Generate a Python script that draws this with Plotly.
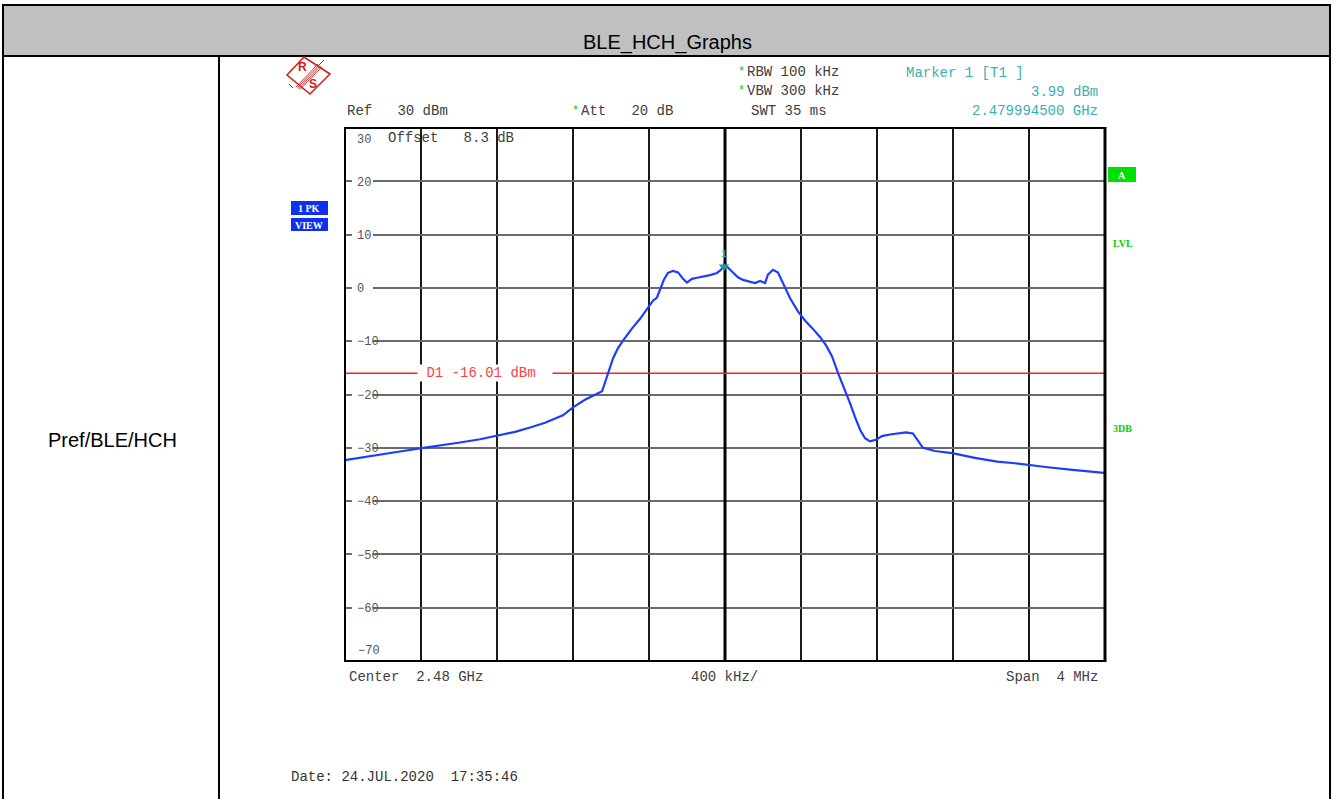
import plotly.graph_objects as go

W, H = 1335, 799

# ---------------- data ----------------
center_ghz = 2.48
span_mhz = 4.0
# frequency offsets from start (2.478 GHz), MHz
freq_offset_mhz = [0.000, 0.079, 0.184, 0.289, 0.395, 0.500, 0.605, 0.711, 0.800, 0.895,
                   0.974, 1.053, 1.147, 1.200, 1.263, 1.326, 1.353, 1.368, 1.384, 1.411,
                   1.437, 1.463, 1.511, 1.553, 1.595, 1.621, 1.642, 1.658, 1.679, 1.700,
                   1.726, 1.753, 1.779, 1.800, 1.826, 1.853, 1.884, 1.921, 1.958, 1.979,
                   1.995, 2.016, 2.042, 2.068, 2.095, 2.132, 2.158, 2.184, 2.211, 2.226,
                   2.253, 2.279, 2.300, 2.316, 2.342, 2.384, 2.421, 2.458, 2.500, 2.532,
                   2.563, 2.595, 2.621, 2.658, 2.684, 2.711, 2.737, 2.763, 2.795, 2.826,
                   2.868, 2.911, 2.953, 2.989, 3.016, 3.042, 3.105, 3.195, 3.316, 3.432,
                   3.526, 3.605, 3.711, 3.816, 3.921, 3.995]
level_dbm = [-32.3, -31.9, -31.3, -30.7, -30.1, -29.6, -29.0, -28.4, -27.7, -27.0,
             -26.2, -25.3, -23.9, -22.4, -21.0, -19.8, -19.4, -17.8, -16.0, -13.2,
             -11.3, -9.9, -7.6, -5.8, -3.7, -2.4, -1.8, -0.3, 1.6, 2.8,
             3.2, 2.9, 1.7, 1.0, 1.7, 1.9, 2.1, 2.4, 2.8, 3.4,
             4.3, 3.8, 2.9, 2.0, 1.5, 1.1, 0.9, 1.3, 0.9, 2.5,
             3.4, 2.9, 1.3, 0.0, -1.9, -4.4, -6.1, -7.5, -9.2, -10.8,
             -12.8, -16.0, -18.2, -21.6, -24.2, -26.6, -28.2, -28.8, -28.5, -27.8,
             -27.5, -27.3, -27.1, -27.3, -28.6, -30.0, -30.6, -31.0, -31.9, -32.6,
             -32.9, -33.3, -33.7, -34.1, -34.5, -34.7]
marker_freq_ghz = 2.4799945
marker_level_dbm = 3.99
d1_level_dbm = -16.01
ref_level = 30
bottom_level = -70
y_tick_vals = [20, 10, 0, -10, -20, -30, -40, -50, -60]
y_tick_text = ["20", "10", "0", "\u221210", "\u221220", "\u221230", "\u221240", "\u221250", "\u221260"]
x_div_khz = 400

start_ghz = center_ghz - span_mhz / 2000
stop_ghz = center_ghz + span_mhz / 2000
freq_ghz = [start_ghz + f / 1000 for f in freq_offset_mhz]
x_grid = [start_ghz + i * x_div_khz / 1e6 for i in range(11)]

# ---------------- geometry helpers (page pixel -> paper) ----------------
def px(x):
    return x / W

def py(y):
    return 1 - y / H

L, R, T, B = 345, 1105, 128, 661

def xdata(x):  # page pixel inside plot -> frequency (for shapes on the x axis)
    return start_ghz + (x - L) / (R - L) * (stop_ghz - start_ghz)

MONO = "Liberation Mono"
GRAY = "#404040"
TEAL = "#3AB0B0"
GREEN = "#00D000"
LOGO = "#D02020"

fig = go.Figure()

fig.add_trace(go.Scatter(
    x=freq_ghz, y=level_dbm, mode="lines",
    line=dict(color="#1E3CFF", width=2.2), hoverinfo="skip", showlegend=False))

fig.add_trace(go.Scatter(
    x=[marker_freq_ghz], y=[marker_level_dbm], mode="markers+text",
    marker=dict(symbol="triangle-down", size=9, color="#1A9A9A"),
    text=["1"], textposition="top center",
    textfont=dict(family=MONO, size=11, color=TEAL),
    hoverinfo="skip", showlegend=False))

fig.update_layout(
    width=W, height=H,
    margin=dict(l=0, r=0, t=0, b=0),
    paper_bgcolor="white", plot_bgcolor="white",
    xaxis=dict(domain=[px(L), px(R)], range=[start_ghz, stop_ghz],
               tickvals=x_grid, showticklabels=False, ticks="",
               showgrid=True, gridcolor="#1a1a1a", gridwidth=1.5,
               zeroline=False, showline=False),
    yaxis=dict(domain=[py(B), py(T)], range=[bottom_level, ref_level],
               tickvals=y_tick_vals, ticktext=y_tick_text,
               ticklabelposition="inside", ticks="", ticklabelstandoff=9,
               tickfont=dict(family=MONO, size=12, color="#555555"),
               showgrid=True, gridcolor="#6a6a6a", gridwidth=2,
               zeroline=False, showline=False),
)

shapes = []
# white gaps in horizontal gridlines behind the inside tick labels
for v in y_tick_vals:
    shapes.append(dict(type="rect", xref="x", yref="y", layer="between",
                       x0=xdata(352), x1=xdata(373), y0=v - 0.9, y1=v + 0.9,
                       fillcolor="white", line=dict(width=0)))
# thicker centre line
shapes.append(dict(type="line", xref="x", yref="y", layer="between",
                   x0=center_ghz, x1=center_ghz, y0=bottom_level, y1=ref_level,
                   line=dict(color="black", width=3)))
# D1 display line
shapes.append(dict(type="line", xref="x", yref="y", layer="between",
                   x0=start_ghz, x1=stop_ghz, y0=d1_level_dbm, y1=d1_level_dbm,
                   line=dict(color="#FF2020", width=1.3)))
# plot frame
shapes.append(dict(type="rect", xref="paper", yref="paper", layer="above",
                   x0=px(L), x1=px(R), y0=py(B), y1=py(T),
                   line=dict(color="black", width=2)))
shapes.append(dict(type="line", xref="paper", yref="paper", layer="above",
                   x0=px(R), x1=px(R), y0=py(B + 1), y1=py(T - 1),
                   line=dict(color="black", width=3)))

# table: header band, borders
shapes.append(dict(type="rect", xref="paper", yref="paper", layer="below",
                   x0=px(3), x1=px(1330), y0=py(56), y1=py(5),
                   fillcolor="#C0C0C0", line=dict(color="black", width=2)))
for xv in (3, 219, 1330):
    shapes.append(dict(type="line", xref="paper", yref="paper",
                       x0=px(xv), x1=px(xv), y0=py(56), y1=py(800),
                       line=dict(color="black", width=2)))

# R&S logo (tilted square)
def pp(x, y):
    return f"{px(x)},{py(y)}"
shapes.append(dict(type="path", xref="paper", yref="paper",
                   path=f"M {pp(287,75)} L {pp(304,57)} L {pp(330,74)} L {pp(310,94)} Z",
                   line=dict(color=LOGO, width=1.6)))
for k in range(4):
    shapes.append(dict(type="line", xref="paper", yref="paper",
                       x0=px(296 + k * 1.3), y0=py(87 + k * 0.9), x1=px(318 + k * 1.3), y1=py(64 + k * 0.9),
                       line=dict(color=LOGO, width=0.9)))
shapes.append(dict(type="line", xref="paper", yref="paper",
                   x0=px(319), y0=py(65), x1=px(324), y1=py(60),
                   line=dict(color=LOGO, width=1)))
shapes.append(dict(type="line", xref="paper", yref="paper",
                   x0=px(293), y0=py(88), x1=px(289), y1=py(84),
                   line=dict(color=LOGO, width=1)))

# boxes
shapes.append(dict(type="rect", xref="paper", yref="paper",
                   x0=px(1108), x1=px(1136), y0=py(182), y1=py(167),
                   fillcolor="#00E000", line=dict(width=0)))
shapes.append(dict(type="rect", xref="paper", yref="paper",
                   x0=px(291), x1=px(328), y0=py(215), y1=py(201),
                   fillcolor="#1030F0", line=dict(width=0)))
shapes.append(dict(type="rect", xref="paper", yref="paper",
                   x0=px(291), x1=px(328), y0=py(231), y1=py(218),
                   fillcolor="#1030F0", line=dict(width=0)))

fig.update_layout(shapes=shapes)

ann = []
def txt(x, y, s, color=GRAY, size=14, anchor="left", family=MONO, bg=None, bold=False):
    s = s.replace(" ", "\u00a0")
    if bold:
        s = f"<b>{s}</b>"
    d = dict(xref="paper", yref="paper", x=px(x), y=py(y), text=s,
             showarrow=False, xanchor=anchor, yanchor="middle",
             font=dict(family=family, size=size, color=color))
    if bg:
        d["bgcolor"] = bg
        d["borderpad"] = 0
    ann.append(d)

# header title and left cell
txt(667, 42, "BLE_HCH_Graphs", color="black", size=20, anchor="center", family="Liberation Sans")
txt(112, 440, "Pref/BLE/HCH", color="black", size=20, anchor="center", family="Liberation Sans")

# instrument header lines
txt(345, 111, "Ref   30 dBm")
txt(570, 111, "*", color=GREEN, size=12)
txt(579, 111, "Att   20 dB")
txt(736, 72, "*", color=GREEN, size=12)
txt(745, 72, "RBW 100 kHz")
txt(736, 91, "*", color=GREEN, size=12)
txt(745, 91, "VBW 300 kHz")
txt(749, 111, "SWT 35 ms")
txt(904, 73, "Marker 1 [T1 ]", color=TEAL)
txt(1100, 92, "3.99 dBm", color=TEAL, anchor="right")
txt(1100, 111, "2.479994500 GHz", color=TEAL, anchor="right")

# inside-plot text
txt(386, 138, "Offset   8.3 dB")
txt(355, 140, str(ref_level), color="#555555", size=12)
txt(356, 651, str(bottom_level).replace("-", "\u2212"), color="#555555", size=12)
txt(417, 373, " D1 -16.01 dBm  ", color="#FF4040", bg="white")

# bottom labels
txt(347, 677, "Center  2.48 GHz")
txt(724, 677, "400 kHz/", anchor="center")
txt(1100, 677, "Span  4 MHz", anchor="right")
txt(289, 777, "Date: 24.JUL.2020  17:35:46", color="#333333")

# side labels
txt(1122, 175, "A", color="white", size=10, anchor="center", family="Liberation Serif", bold=True)
txt(1111, 243, "LVL", color=GREEN, size=10, family="Liberation Serif", bold=True)
txt(1111, 429, "3DB", color=GREEN, size=10, family="Liberation Serif", bold=True)
txt(309, 208, "1 PK", color="white", size=10, anchor="center", family="Liberation Serif", bold=True)
txt(309, 225, "VIEW", color="white", size=10, anchor="center", family="Liberation Serif", bold=True)

# logo letters
txt(302, 67, "R", color=LOGO, size=12, anchor="center", family="Liberation Sans", bold=True)
txt(313, 84, "S", color=LOGO, size=12, anchor="center", family="Liberation Sans", bold=True)

fig.update_layout(annotations=ann)

fig.write_html("out.html", config={"displayModeBar": False},
               post_script="document.body.style.margin='0px';document.body.style.overflow='hidden';")
